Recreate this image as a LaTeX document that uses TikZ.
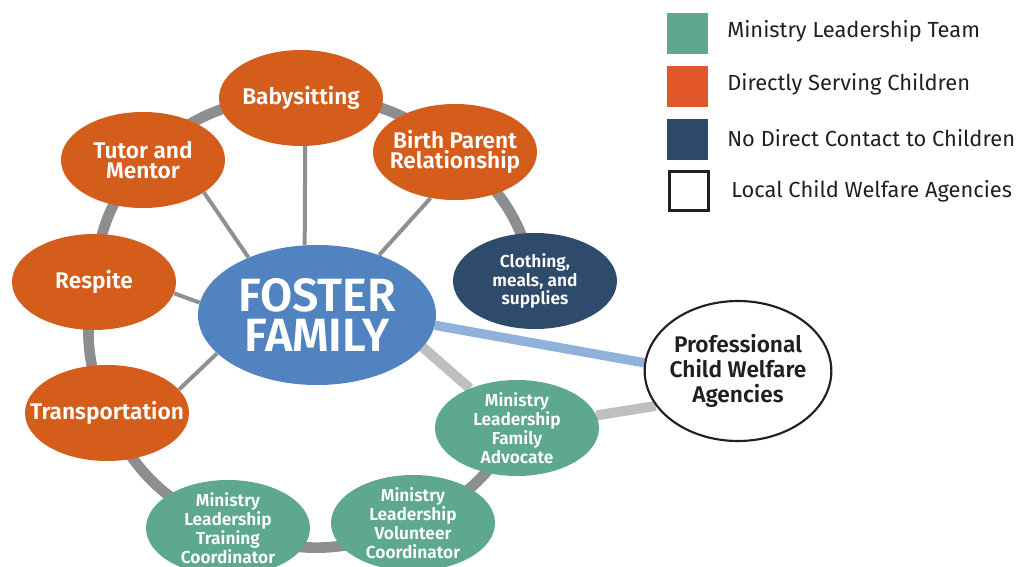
\documentclass[tikz,border=0pt]{standalone}
\usepackage{fontspec}
\setmainfont{Fira Sans}[BoldFont={Fira Sans SemiBold}]
\usetikzlibrary{shapes.geometric,backgrounds}
\definecolor{orng}{HTML}{D45D1C}
\definecolor{fblue}{HTML}{5083BF}
\definecolor{navy}{HTML}{2F4B6B}
\definecolor{mgreen}{HTML}{5FA890}
\definecolor{lorng}{HTML}{E2572A}
\definecolor{lnavy}{HTML}{2E4A69}
\definecolor{ringgray}{HTML}{8D8E92}
\definecolor{spokegray}{HTML}{8F9094}
\definecolor{lgray}{HTML}{BEBFC1}
\definecolor{lblue}{HTML}{8FB1DA}
\definecolor{txt}{HTML}{231F20}
\begin{document}
\begin{tikzpicture}[x=0.75pt,y=0.75pt,
  bub/.style={ellipse, inner sep=-16pt, minimum width=123pt, minimum height=72pt, align=center, text=white, font=\bfseries\fontsize{17}{15.5}\selectfont},
  orb/.style={bub, fill=orng},
  grb/.style={bub, fill=mgreen, font=\bfseries\fontsize{13}{14.2}\selectfont},
  nvb/.style={bub, fill=navy, font=\bfseries\fontsize{13}{14.2}\selectfont},
  ringline/.style={draw=ringgray, line width=8pt},
  spoke/.style={draw=spokegray, line width=3pt},
  lgline/.style={draw=lgray, line width=7.5pt},
  lbline/.style={draw=lblue, line width=7pt},
  legsq/.style={minimum width=30.75pt, minimum height=30.75pt, inner sep=0pt},
  legtx/.style={anchor=west, text=txt, inner sep=0pt, font=\fontsize{16.4}{18}\selectfont}
]
\clip (0,0) rectangle (1025,-567);
% nodes
\node[ellipse, fill=fblue, inner sep=-16pt, minimum width=178.5pt, minimum height=105pt, align=center, text=white, font=\bfseries\fontsize{35}{30}\selectfont] (foster) at (317,-315) {FOSTER\\FAMILY};
\node[orb] (baby) at (301,-98) {Babysitting};
\node[orb] (tutor) at (143,-160) {Tutor and\\Mentor};
\node[orb] (birth) at (455,-152) {Birth Parent\\Relationship};
\node[nvb] (cloth) at (535,-281) {Clothing,\\meals, and\\supplies};
\node[orb] (respite) at (94,-282) {Respite};
\node[orb] (trans) at (107,-413) {Transportation};
\node[grb] (adv) at (517,-428) {Ministry\\Leadership\\Family\\Advocate};
\node[grb] (vol) at (413,-523) {Ministry\\Leadership\\Volunteer\\Coordinator};
\node[grb] (train) at (228,-528) {Ministry\\Leadership\\Training\\Coordinator};
\node[ellipse, draw=txt, line width=1.6pt, fill=white, inner sep=-16pt, minimum width=140pt, minimum height=105pt, align=center, text=txt, font=\bfseries\fontsize{17}{19}\selectfont] (prof) at (738,-371) {Professional\\Child Welfare\\Agencies};
% connectors
\begin{scope}[on background layer]
\draw[ringline] (cloth.center) to[bend right=20] (birth.center) to[bend right=21] (baby.center) to[bend right=22] (tutor.center) to[bend right=17] (respite.center) to[bend right=17] (trans.center) to[bend right=22] (train.center) to[bend right=24] (vol.center) to[bend right=18] (adv.center);
\draw[spoke] (foster.100) -- (baby.-85);
\draw[spoke] (foster.140) -- (tutor.-28);
\draw[spoke] (foster.44) -- (birth.-118);
\draw[spoke] (foster.174) -- (respite.-8);
\draw[spoke] (foster.-159) -- (trans.18);
\draw[lgline] (foster.-17) -- (adv.140);
\draw[lgline] (adv.9) -- (prof.-157);
\draw[lbline] (foster.-5) -- (prof.175);
\end{scope}
% legend
\node[legsq, fill=mgreen] (sq1) at (687.5,-33.5) {};
\node[legsq, fill=lorng] (sq2) at (687.5,-86.5) {};
\node[legsq, fill=lnavy] (sq3) at (687.5,-139.5) {};
\node[legsq, draw=txt, line width=2pt, minimum width=29pt, minimum height=29pt] (sq4) at (689,-191) {};
\node[legtx] (t1) at (727,-31) {Ministry Leadership Team};
\node[legtx] (t2) at (727,-84) {Directly Serving Children};
\node[legtx] (t3) at (727,-138) {No Direct Contact to Children};
\node[legtx] (t4) at (731,-191) {Local Child Welfare Agencies};
\end{tikzpicture}
\end{document}
